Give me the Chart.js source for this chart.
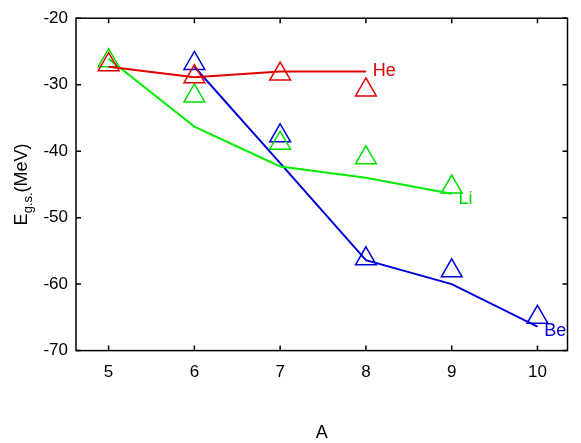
<!DOCTYPE html><html><head><script src="https://cdn.jsdelivr.net/npm/chart.js@4"></script>
<style>body{margin:0;background:#fff}#w{width:581px;height:443px}</style></head><body><div id="w"><canvas id="c"></canvas></div>
<script>
const A=[5,6,7,8,9,10];
const heTheory=[-27.3,-28.9,-28.0,-28.0];
const heExp=[-27.0,-28.8,-28.4,-30.8];
const liTheory=[-26.1,-36.3,-42.3,-44.0,-46.4];
const liExp=[-26.4,-31.7,-38.8,-41.0,-45.4];
const beTheory=[-27.3,-41.8,-56.4,-60.0,-66.4];
const beExp=[-26.8,-37.7,-56.2,-58.0,-65.0];
const yTicks=[-20,-30,-40,-50,-60,-70];
const pts=(xs,ys)=>ys.map((y,i)=>({x:xs[i],y}));
const line=(d,c)=>({data:d,borderColor:c,borderWidth:2,pointRadius:0,showLine:true,fill:false});
const tri=(d,c)=>({data:d,borderColor:c,backgroundColor:'rgba(0,0,0,0)',borderWidth:1.5,pointStyle:'triangle',pointRadius:12,showLine:false});
const labels=[{t:'He',x:8.08,y:-28,c:'#e00000'},{t:'Li',x:9.08,y:-47.2,c:'#00dd00'},{t:'Be',x:10.08,y:-67,c:'#0000dd'}];
const deco={id:'deco',afterDraw(ch){const g=ch.ctx,xs=ch.scales.x,ys=ch.scales.y;g.save();g.font='18px Liberation Sans, Arial';
labels.forEach(l=>{g.fillStyle=l.c;g.textBaseline='middle';g.fillText(l.t,xs.getPixelForValue(l.x),ys.getPixelForValue(l.y));});
g.fillStyle='#000';g.textAlign='center';g.fillText('A',(ch.chartArea.left+ch.chartArea.right)/2,433);
g.translate(22,(ch.chartArea.top+ch.chartArea.bottom)/2);g.rotate(-Math.PI/2);g.textAlign='left';
const p1='E',p2='g.s.',p3='(MeV)';g.font='18px Liberation Sans, Arial';const w1=g.measureText(p1).width;g.font='13px Liberation Sans, Arial';const w2=g.measureText(p2).width;g.font='18px Liberation Sans, Arial';const w3=g.measureText(p3).width;
let x0=-(w1+w2+w3)/2;g.fillText(p1,x0,0);g.font='13px Liberation Sans, Arial';g.fillText(p2,x0+w1,6);g.font='18px Liberation Sans, Arial';g.fillText(p3,x0+w1+w2,0);
const a=ch.chartArea;g.restore();g.save();g.strokeStyle='#000';g.lineWidth=1.5;g.strokeRect(a.left,a.top,a.right-a.left,a.bottom-a.top);
g.beginPath();[5,6,7,8,9,10].forEach(v=>{const px=xs.getPixelForValue(v);g.moveTo(px,a.bottom);g.lineTo(px,a.bottom-5);g.moveTo(px,a.top);g.lineTo(px,a.top+5);});
yTicks.forEach(v=>{const py=ys.getPixelForValue(v);g.moveTo(a.left,py);g.lineTo(a.left+5,py);g.moveTo(a.right,py);g.lineTo(a.right-5,py);});g.stroke();g.restore();}};
new Chart(document.getElementById('c'),{type:'scatter',data:{datasets:[
line(pts(A,heTheory),'#e00000'),tri(pts(A,heExp),'#e00000'),
line(pts(A,liTheory),'#00ee00'),tri(pts(A,liExp),'#00dd00'),
line(pts(A.slice(1),beTheory),'#0000dd'),tri(pts(A.slice(1),beExp),'#0000dd')]},
options:{responsive:true,maintainAspectRatio:false,animation:false,layout:{padding:{left:0,right:12,top:1,bottom:48}},
plugins:{legend:{display:false},tooltip:{enabled:false}},
scales:{x:{type:'linear',min:4.62,max:10.35,afterBuildTicks:s=>{s.ticks=A.map(v=>({value:v}))},grid:{display:false,drawTicks:false},border:{display:false},ticks:{color:'#000',font:{size:17,family:'Liberation Sans, Arial'},padding:12}},
y:{min:-70,max:-20,afterBuildTicks:s=>{s.ticks=yTicks.map(v=>({value:v}))},grid:{display:false,drawTicks:false},border:{display:false},ticks:{color:'#000',font:{size:17,family:'Liberation Sans, Arial'},padding:8},afterFit:s=>{s.width=76}}}},
plugins:[deco]});
</script></body></html>
